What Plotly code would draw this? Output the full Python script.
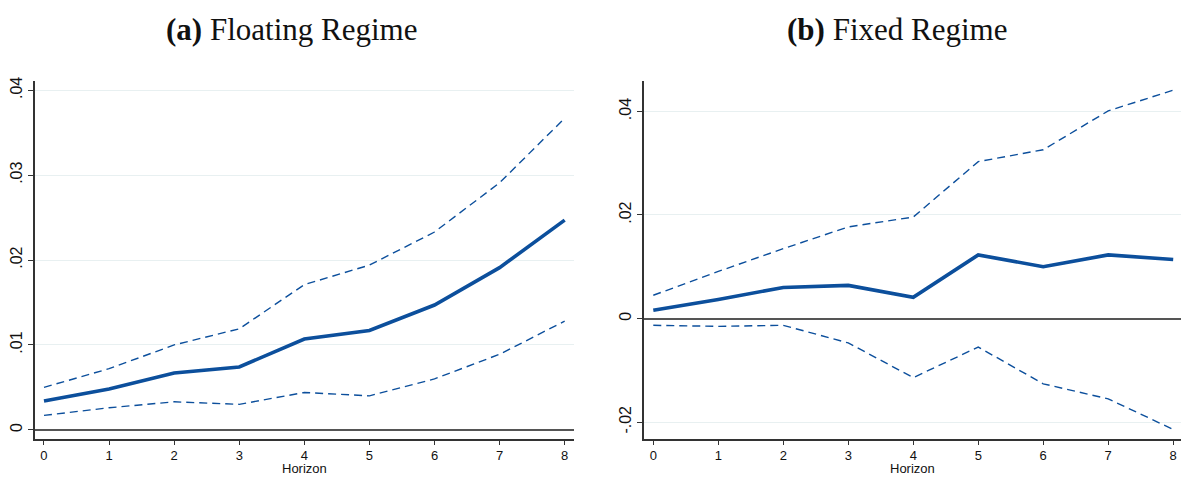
import plotly.graph_objects as go

# Horizons for both panels
horizon = [0, 1, 2, 3, 4, 5, 6, 7, 8]

# Panel (a): floating regime impulse response with confidence band
float_irf = [0.0034, 0.0048, 0.0067, 0.0074, 0.0107, 0.0117, 0.0147, 0.0191, 0.0247]
float_upper = [0.0050, 0.0072, 0.0100, 0.0119, 0.0171, 0.0194, 0.0233, 0.0291, 0.0367]
float_lower = [0.0017, 0.0026, 0.0033, 0.0030, 0.0044, 0.0040, 0.0060, 0.0089, 0.0128]

# Panel (b): fixed regime impulse response with confidence band
fixed_irf = [0.0016, 0.0037, 0.0060, 0.0064, 0.0041, 0.0123, 0.0100, 0.0123, 0.0114]
fixed_upper = [0.0045, 0.0091, 0.0135, 0.0177, 0.0196, 0.0303, 0.0326, 0.0401, 0.0441]
fixed_lower = [-0.0013, -0.0015, -0.0013, -0.0047, -0.0114, -0.0055, -0.0126, -0.0155, -0.0214]

float_ticks = [0, 0.01, 0.02, 0.03, 0.04]
float_ticktext = ["0", ".01", ".02", ".03", ".04"]
fixed_ticks = [-0.02, 0, 0.02, 0.04]
fixed_ticktext = ["-.02", "0", ".02", ".04"]

W, H = 1181, 477
LINE = "#0c4f9c"
AXIS = "#333333"
GRID = "#e8f0f1"
SANS = "Liberation Sans, Arial"

fig = go.Figure()

def add_panel(xa, ya, irf, up, lo):
    for band in (up, lo):
        fig.add_trace(go.Scatter(x=horizon, y=band, mode="lines", xaxis=xa, yaxis=ya,
                                 line=dict(color=LINE, width=1.4, dash="8px,5px"),
                                 showlegend=False, hoverinfo="skip"))
    fig.add_trace(go.Scatter(x=horizon, y=irf, mode="lines", xaxis=xa, yaxis=ya,
                             line=dict(color=LINE, width=3.6),
                             showlegend=False))

add_panel("x", "y", float_irf, float_upper, float_lower)
add_panel("x2", "y2", fixed_irf, fixed_upper, fixed_lower)

ydom = [(H - 438.5) / H, (H - 77.3) / H]

common_x = dict(
    tickvals=horizon, ticks="outside", ticklen=4, tickwidth=1.2, tickcolor=AXIS,
    showline=True, linecolor=AXIS, linewidth=1.5, showgrid=False, zeroline=False,
    tickfont=dict(family=SANS, size=13, color="#111"),
)
common_y = dict(
    ticks="outside", ticklen=5, tickwidth=1.2, tickcolor=AXIS,
    showline=True, linecolor=AXIS, linewidth=1.5,
    showgrid=True, gridcolor=GRID, gridwidth=1.2,
    zeroline=True, zerolinecolor="#555555", zerolinewidth=2,
    tickangle=-90,
    tickfont=dict(family=SANS, size=16, color="#111"),
)

title_font = dict(family="Liberation Serif", size=31, color="#111")
label_font = dict(family=SANS, size=13, color="#111")

fig.update_layout(
    width=W, height=H,
    margin=dict(l=0, r=0, t=0, b=0),
    paper_bgcolor="white", plot_bgcolor="white",
    xaxis=dict(domain=[35 / W, 574.3 / W], range=[-0.138, 8.148], anchor="y", **common_x),
    yaxis=dict(domain=ydom, range=[-0.00106, 0.04113], anchor="x",
               tickvals=float_ticks, ticktext=float_ticktext, **common_y),
    xaxis2=dict(domain=[644 / W, 1.0], range=[-0.143, 8.12], anchor="y2", **common_x),
    yaxis2=dict(domain=ydom, range=[-0.02322, 0.04594], anchor="x2",
                tickvals=fixed_ticks, ticktext=fixed_ticktext, **common_y),
    annotations=[
        dict(text="<b>(a)</b> Floating Regime", x=291 / W, y=1 - 26 / H, xref="paper", yref="paper",
             showarrow=False, xanchor="center", yanchor="middle", font=title_font),
        dict(text="<b>(b)</b> Fixed Regime", x=897 / W, y=1 - 26 / H, xref="paper", yref="paper",
             showarrow=False, xanchor="center", yanchor="middle", font=title_font),
        dict(text="Horizon", x=304.5 / W, y=0, xref="paper", yref="paper",
             showarrow=False, xanchor="center", yanchor="bottom", font=label_font,
             borderpad=0),
        dict(text="Horizon", x=912.5 / W, y=0, xref="paper", yref="paper",
             showarrow=False, xanchor="center", yanchor="bottom", font=label_font,
             borderpad=0),
    ],
)

fig.write_html("out.html")
